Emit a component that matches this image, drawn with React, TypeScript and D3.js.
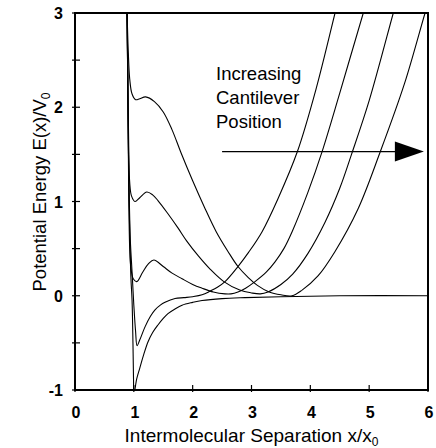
import * as d3 from "d3";

// curves, [x/x0, E/V0]; A = highest cantilever energy at contact
const curveA: [number, number][] = [
  [0.87, 3.3], [0.885, 3.0], [0.905, 2.6], [0.93, 2.3], [0.97, 2.14], [1.03, 2.08],
  [1.1, 2.09], [1.2, 2.11], [1.35, 2.06], [1.5, 1.95], [1.65, 1.76], [1.8, 1.52],
  [2.0, 1.22], [2.2, 0.94], [2.4, 0.68], [2.6, 0.47], [2.77, 0.31], [2.95, 0.19],
  [3.1, 0.11], [3.3, 0.04], [3.5, 0.01], [3.69, 0.0], [3.86, 0.06], [4.13, 0.21],
  [4.42, 0.47], [4.81, 0.92], [5.19, 1.53], [5.6, 2.25], [5.95, 3.0], [6.05, 3.2],
];
const curveB: [number, number][] = [
  [0.87, 3.3], [0.885, 3.0], [0.9, 2.2], [0.915, 1.5], [0.93, 1.2], [0.96, 1.06],
  [1.02, 1.0], [1.1, 1.04], [1.22, 1.1], [1.32, 1.07], [1.41, 1.01], [1.58, 0.87],
  [1.75, 0.72], [1.9, 0.58], [2.1, 0.42], [2.3, 0.28], [2.53, 0.15], [2.8, 0.06],
  [3.0, 0.03], [3.15, 0.02], [3.28, 0.04], [3.5, 0.12], [3.7, 0.23], [3.96, 0.45],
  [4.25, 0.78], [4.5, 1.14], [4.7, 1.5], [5.0, 2.07], [5.41, 3.0], [5.5, 3.2],
];
const curveC: [number, number][] = [
  [0.87, 3.3], [0.885, 3.0], [0.9, 2.0], [0.915, 1.0], [0.93, 0.5], [0.95, 0.3],
  [0.99, 0.18], [1.05, 0.15], [1.15, 0.25], [1.25, 0.34], [1.34, 0.38], [1.5, 0.31],
  [1.65, 0.24], [1.82, 0.18], [2.0, 0.12], [2.16, 0.08], [2.35, 0.04], [2.55, 0.02],
  [2.65, 0.02], [2.77, 0.04], [2.9, 0.08], [3.06, 0.15], [3.25, 0.25], [3.4, 0.36],
  [3.55, 0.5], [3.69, 0.68], [3.96, 1.1], [4.2, 1.53], [4.5, 2.15], [4.9, 3.0], [5.0, 3.2],
];
const curveD: [number, number][] = [
  [0.87, 3.3], [0.885, 3.0], [0.91, 1.5], [0.94, 0.6], [0.97, 0.25], [1.0, -0.1],
  [1.03, -0.38], [1.055, -0.53], [1.1, -0.47], [1.19, -0.33], [1.28, -0.22], [1.36, -0.15],
  [1.45, -0.1], [1.53, -0.07], [1.7, -0.03], [1.85, -0.02], [2.0, -0.01], [2.16, 0.01],
  [2.3, 0.05], [2.42, 0.09], [2.55, 0.15], [2.77, 0.31], [2.95, 0.46], [3.18, 0.68],
  [3.45, 1.03], [3.78, 1.53], [4.1, 2.2], [4.42, 3.0], [4.5, 3.2],
];
const curveE: [number, number][] = [
  [0.87, 3.3], [0.885, 3.0], [0.9, 2.0], [0.92, 1.0], [0.95, 0.2], [0.97, -0.05],
  [0.985, -0.5], [0.995, -0.9], [1.0, -1.05], [1.05, -0.88], [1.1, -0.77], [1.17, -0.62],
  [1.24, -0.49], [1.32, -0.39], [1.41, -0.31], [1.5, -0.24], [1.58, -0.19], [1.7, -0.14],
  [1.82, -0.1], [2.0, -0.07], [2.16, -0.05], [2.5, -0.03], [2.89, -0.02], [3.5, -0.01],
  [4.5, 0.0], [6.1, 0.0],
];
const curves = [curveA, curveB, curveC, curveD, curveE];

const xTicks = [0, 1, 2, 3, 4, 5, 6];
const yTicks = [-1, 0, 1, 2, 3];
const yMinorTicks = [-0.5, 0.5, 1.5, 2.5];
const noteLines = ["Increasing", "Cantilever", "Position"];

const W = 436;
const H = 448;
const FONT = "'Liberation Sans', Arial, Helvetica, sans-serif";

export default function App() {
  const x = d3.scaleLinear().domain([0, 6]).range([75, 428]);
  const y = d3.scaleLinear().domain([-1, 3]).range([390, 13]);

  const line = d3
    .line<[number, number]>()
    .x(d => x(d[0]))
    .y(d => y(d[1]))
    .curve(d3.curveCatmullRom.alpha(0.5));

  // arrow of the annotation, in data units
  const arrowY = y(1.53);
  const arrowX0 = x(2.5);
  const arrowTip = x(5.93);

  return (
    <svg width={W} height={H} style={{ position: "absolute", left: 0, top: 0, background: "#fff" }}>
      <defs>
        <clipPath id="plot">
          <rect x={x(0)} y={y(3)} width={x(6) - x(0)} height={y(-1) - y(3)} />
        </clipPath>
      </defs>

      <g clipPath="url(#plot)">
        {curves.map((c, i) => (
          <path key={i} d={line(c) || ""} fill="none" stroke="#000" strokeWidth={1.1} />
        ))}
      </g>

      {/* frame */}
      <rect
        x={x(0)}
        y={y(3)}
        width={x(6) - x(0)}
        height={y(-1) - y(3)}
        fill="none"
        stroke="#000"
        strokeWidth={2}
      />

      {/* y ticks */}
      {[...yTicks, ...yMinorTicks].map(t => (
        <line key={"yt" + t} x1={x(0) - 3} x2={x(0) + 5} y1={y(t)} y2={y(t)} stroke="#000" strokeWidth={1.2} />
      ))}
      {yTicks.map(t => (
        <text
          key={"yl" + t}
          x={63}
          y={y(t) + 6}
          textAnchor="end"
          fontFamily={FONT}
          fontWeight="bold"
          fontSize={16}
        >
          {t}
        </text>
      ))}

      {/* x ticks */}
      {xTicks.map(t => (
        <line key={"xt" + t} x1={x(t)} x2={x(t)} y1={y(-1) - 5} y2={y(-1) + 2} stroke="#000" strokeWidth={1.2} />
      ))}
      {xTicks.map(t => (
        <text
          key={"xl" + t}
          x={x(t) + 1}
          y={418}
          textAnchor="middle"
          fontFamily={FONT}
          fontWeight="bold"
          fontSize={16}
        >
          {t}
        </text>
      ))}

      {/* axis titles */}
      <text x={(x(0) + x(6)) / 2} y={442} textAnchor="middle" fontFamily={FONT} fontSize={19}>
        Intermolecular Separation x/x
        <tspan fontSize={12} dy={4}>0</tspan>
      </text>
      <text
        transform={`translate(46, 192) rotate(-90)`}
        textAnchor="middle"
        fontFamily={FONT}
        fontSize={18.5}
      >
        Potential Energy E(x)/V
        <tspan fontSize={12} dy={4}>0</tspan>
      </text>

      {/* annotation */}
      {noteLines.map((s, i) => (
        <text key={s} x={216} y={80 + i * 24} fontFamily={FONT} fontSize={18.5}>
          {s}
        </text>
      ))}
      <line x1={arrowX0} x2={arrowTip - 25} y1={arrowY} y2={arrowY} stroke="#000" strokeWidth={1.2} />
      <polygon
        points={`${arrowTip - 29},${arrowY - 10} ${arrowTip},${arrowY} ${arrowTip - 29},${arrowY + 10}`}
        fill="#000"
      />
    </svg>
  );
}
